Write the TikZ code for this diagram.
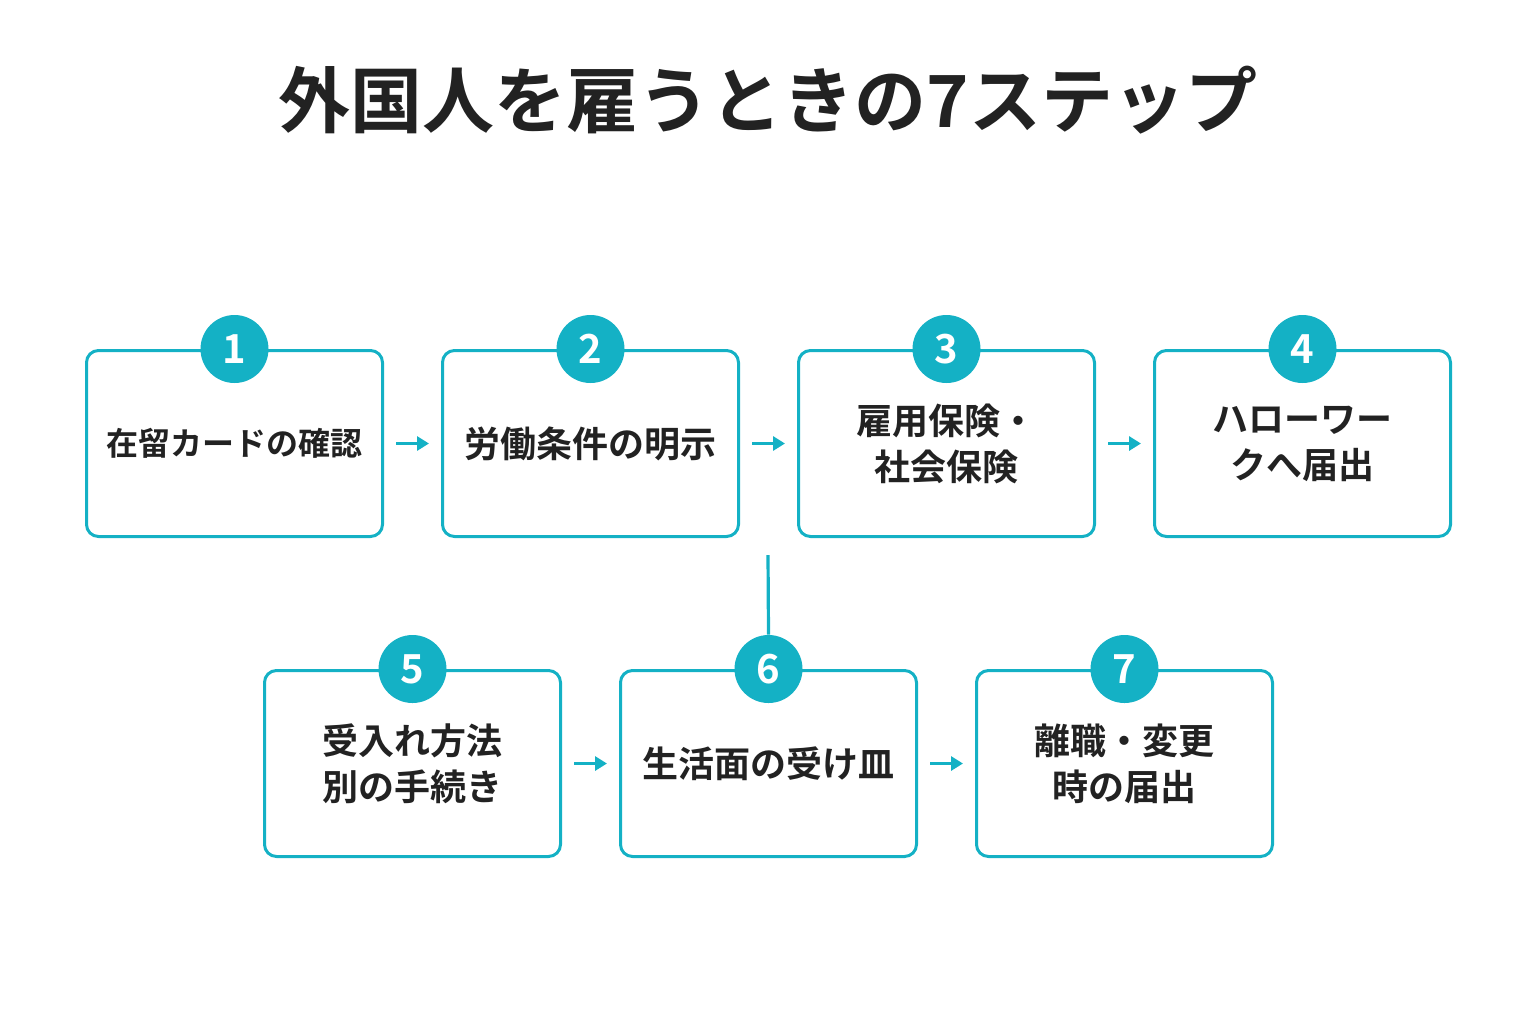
\documentclass[tikz,border=0pt]{standalone}
\usepackage{fontspec}
\setmainfont{Noto Sans CJK JP}[BoldFont={Noto Sans CJK JP Bold}]
\usetikzlibrary{arrows.meta}
\definecolor{teal}{HTML}{14B1C5}
\definecolor{ink}{HTML}{222222}
\begin{document}
\begin{tikzpicture}[x=0.5pt,y=-0.5pt,
  box/.style={draw=teal,line width=1.5pt,rounded corners=6pt,minimum width=148pt,minimum height=93pt,align=center,text=ink,font=\fontsize{18}{23}\selectfont\bfseries},
  num/.style={circle,fill=teal,minimum size=34pt,inner sep=0pt,text=white,font=\fontsize{20}{20}\selectfont\bfseries},
  arr/.style={draw=teal,line width=1.6pt,-{Triangle[length=6pt,width=7pt]}}]
\useasboundingbox (0,0) rectangle (1536,1024);
\node[text=ink,font=\fontsize{36}{40}\selectfont\bfseries] (title) at (768,100) {外国人を雇うときの7ステップ};
\node[box,font=\fontsize{16}{20}\selectfont\bfseries] (b1) at (234.5,443.5) {在留カードの確認};
\node[box] (b2) at (590.5,443.5) {労働条件の明示};
\node[box] (b3) at (946.5,443.5) {雇用保険・\\社会保険};
\node[box] (b4) at (1302.5,443.5) {ハローワー\\クへ届出};
\node[box] (b5) at (412.5,763.5) {受入れ方法\\別の手続き};
\node[box] (b6) at (768.5,763.5) {生活面の受け皿};
\node[box] (b7) at (1124.5,763.5) {離職・変更\\時の届出};
\foreach \i in {1,...,7}{\node[num] (n\i) at (b\i.north) {\i};}
\coordinate (v1) at (768,555);
\draw[draw=teal,line width=1.6pt] (v1) -- (n6.north);
\draw[arr] ([xshift=6pt]b1.east) -- ([xshift=-6pt]b2.west);
\draw[arr] ([xshift=6pt]b2.east) -- ([xshift=-6pt]b3.west);
\draw[arr] ([xshift=6pt]b3.east) -- ([xshift=-6pt]b4.west);
\draw[arr] ([xshift=6pt]b5.east) -- ([xshift=-6pt]b6.west);
\draw[arr] ([xshift=6pt]b6.east) -- ([xshift=-6pt]b7.west);
\end{tikzpicture}
\end{document}
